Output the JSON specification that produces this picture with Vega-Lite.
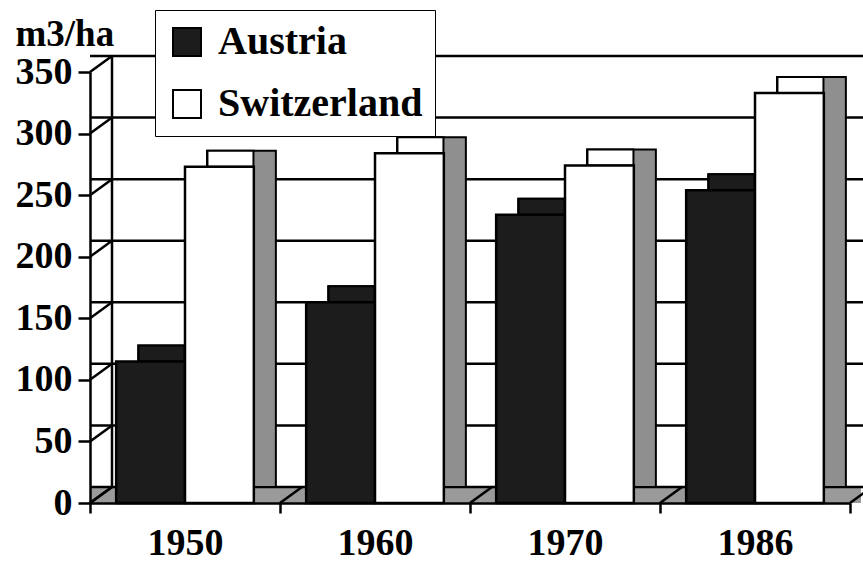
{
  "$schema": "https://vega.github.io/schema/vega-lite/v6.json",
  "width": 760,
  "height": 431,
  "autosize": {"type": "none"},
  "padding": {"left": 90, "top": 72, "right": 13, "bottom": 59},
  "background": "white",
  "config": {"view": {"stroke": null}, "font": "Liberation Serif"},
  "datasets": {
    "bars": [
      {"year": "1950", "country": "Austria", "value": 115},
      {"year": "1950", "country": "Switzerland", "value": 273},
      {"year": "1960", "country": "Austria", "value": 163},
      {"year": "1960", "country": "Switzerland", "value": 284},
      {"year": "1970", "country": "Austria", "value": 234},
      {"year": "1970", "country": "Switzerland", "value": 274},
      {"year": "1986", "country": "Austria", "value": 254},
      {"year": "1986", "country": "Switzerland", "value": 333}
    ],
    "ticks": [
      {"v": 0}, {"v": 50}, {"v": 100}, {"v": 150}, {"v": 200}, {"v": 250}, {"v": 300}, {"v": 350}
    ],
    "years": [{"year": "1950"}, {"year": "1960"}, {"year": "1970"}, {"year": "1986"}],
    "wall": [{"a": 0, "b": 350}]
  },
  "resolve": {"scale": {"xOffset": "independent"}},
  "layer": [
    {
      "data": {"name": "bars"},
      "mark": {"type": "bar", "stroke": "black", "strokeWidth": 2, "opacity": 0},
      "encoding": {
        "x": {
          "field": "year", "type": "nominal",
          "scale": {"domain": ["1950", "1960", "1970", "1986"], "paddingInner": 0, "paddingOuter": 0},
          "axis": {
            "title": null, "labelAngle": 0, "tickBand": "extent", "domainColor": "black", "domainWidth": 2.5,
            "tickColor": "black", "tickWidth": 2.5, "tickSize": 10, "labelFont": "Liberation Serif",
            "labelFontWeight": "bold", "labelFontSize": 38, "labelColor": "black", "labelPadding": 11, "zindex": 1
          }
        },
        "y": {
          "field": "value", "type": "quantitative",
          "scale": {"domain": [0, 350]},
          "axis": {
            "values": [0, 50, 100, 150, 200, 250, 300, 350], "grid": false, "domainColor": "black", "domainWidth": 2.5,
            "tickColor": "black", "tickWidth": 2.5, "tickSize": 12, "labelFont": "Liberation Serif",
            "labelFontWeight": "bold", "labelFontSize": 38, "labelColor": "black", "labelPadding": 6,
            "title": "m3/ha", "titleAngle": 0, "titleAlign": "left", "titleBaseline": "alphabetic",
            "titleX": -75, "titleY": -27, "titleFont": "Liberation Serif", "titleFontSize": 37,
            "titleFontWeight": "bold", "titleColor": "black", "zindex": 1
          }
        },
        "y2": {"datum": 0}
      }
    },
    {
      "data": {"name": "wall"},
      "mark": {"type": "rule", "stroke": "#9a9a9a", "strokeWidth": 16, "xOffset": 11, "x2Offset": 11, "yOffset": -8},
      "encoding": {
        "y": {"field": "a", "type": "quantitative"}
      }
    },
    {
      "data": {"name": "ticks"},
      "mark": {"type": "rule", "stroke": "black", "strokeWidth": 2.5, "xOffset": 22, "x2Offset": 13, "yOffset": -16},
      "encoding": {
        "y": {"field": "v", "type": "quantitative"}
      }
    },
    {
      "data": {"name": "wall"},
      "mark": {"type": "rule", "stroke": "black", "strokeWidth": 2.5, "xOffset": 22, "yOffset": -16, "y2Offset": -16},
      "encoding": {
        "x": {"datum": "1950", "type": "nominal", "bandPosition": 0},
        "y": {"field": "a", "type": "quantitative"},
        "y2": {"field": "b"}
      }
    },
    {
      "data": {"name": "ticks"},
      "mark": {"type": "point", "shape": "M-1,0.727L1,-0.727", "size": 484, "filled": false, "stroke": "black", "strokeWidth": 2.5, "opacity": 1, "xOffset": 11, "yOffset": -8},
      "encoding": {
        "x": {"datum": "1950", "type": "nominal", "bandPosition": 0},
        "y": {"field": "v", "type": "quantitative"}
      }
    },
    {
      "data": {"name": "years"},
      "mark": {"type": "point", "shape": "M-1,0.727L1,-0.727", "size": 484, "filled": false, "stroke": "black", "strokeWidth": 2.5, "opacity": 1, "xOffset": 11, "yOffset": -8},
      "encoding": {
        "x": {"field": "year", "type": "nominal", "bandPosition": 0},
        "y": {"datum": 0, "type": "quantitative"}
      }
    },
    {
      "data": {"name": "wall"},
      "mark": {"type": "point", "shape": "M-1,0.727L1,-0.727", "size": 484, "filled": false, "stroke": "black", "strokeWidth": 2.5, "opacity": 1, "xOffset": 11, "yOffset": -8},
      "encoding": {
        "x": {"datum": "1986", "type": "nominal", "bandPosition": 1},
        "y": {"field": "a", "type": "quantitative"}
      }
    },
    {
      "data": {"name": "bars"},
      "mark": {"type": "bar", "stroke": "black", "strokeWidth": 2, "yOffset": -16, "y2Offset": -16},
      "encoding": {
        "x": {"field": "year", "type": "nominal"},
        "xOffset": {"field": "country", "type": "nominal", "scale": {"domain": ["Austria", "Switzerland"], "paddingOuter": 0.38, "paddingInner": 0, "align": 0.921}},
        "y": {"field": "value", "type": "quantitative"},
        "y2": {"datum": 0},
        "fill": {"condition": {"test": "datum.country === 'Austria'", "value": "#1c1c1c"}, "value": "#8f8f8f"}
      }
    },
    {
      "data": {"name": "bars"},
      "mark": {"type": "tick", "thickness": 16, "size": 46, "yOffset": -8, "stroke": "black", "strokeWidth": 2, "opacity": 1},
      "encoding": {
        "x": {"field": "year", "type": "nominal"},
        "xOffset": {"field": "country", "type": "nominal", "scale": {"domain": ["Austria", "Switzerland"], "paddingOuter": 0.38, "paddingInner": 0, "align": 0.711}},
        "y": {"field": "value", "type": "quantitative"},
        "fill": {"condition": {"test": "datum.country === 'Austria'", "value": "#1c1c1c"}, "value": "white"}
      }
    },
    {
      "data": {"name": "bars"},
      "mark": {"type": "bar", "stroke": "black", "strokeWidth": 2.5},
      "encoding": {
        "x": {"field": "year", "type": "nominal"},
        "xOffset": {"field": "country", "type": "nominal", "scale": {"domain": ["Austria", "Switzerland"], "paddingOuter": 0.38, "paddingInner": 0, "align": 0.5}},
        "y": {"field": "value", "type": "quantitative"},
        "y2": {"datum": 0},
        "color": {
          "field": "country", "type": "nominal",
          "scale": {"domain": ["Austria", "Switzerland"], "range": ["#1c1c1c", "white"]},
          "legend": {
            "orient": "none", "legendX": 65, "legendY": -62, "title": null, "symbolType": "square",
            "symbolSize": 784, "symbolStrokeColor": "black", "symbolStrokeWidth": 2, "symbolOpacity": 1,
            "labelFont": "Liberation Serif", "labelFontWeight": "bold", "labelFontSize": 40, "labelColor": "black",
            "labelOffset": 11, "rowPadding": 22, "padding": 12, "strokeColor": "black", "fillColor": "white",
            "labelLimit": 400, "zindex": 2
          }
        }
      }
    }
  ]
}
